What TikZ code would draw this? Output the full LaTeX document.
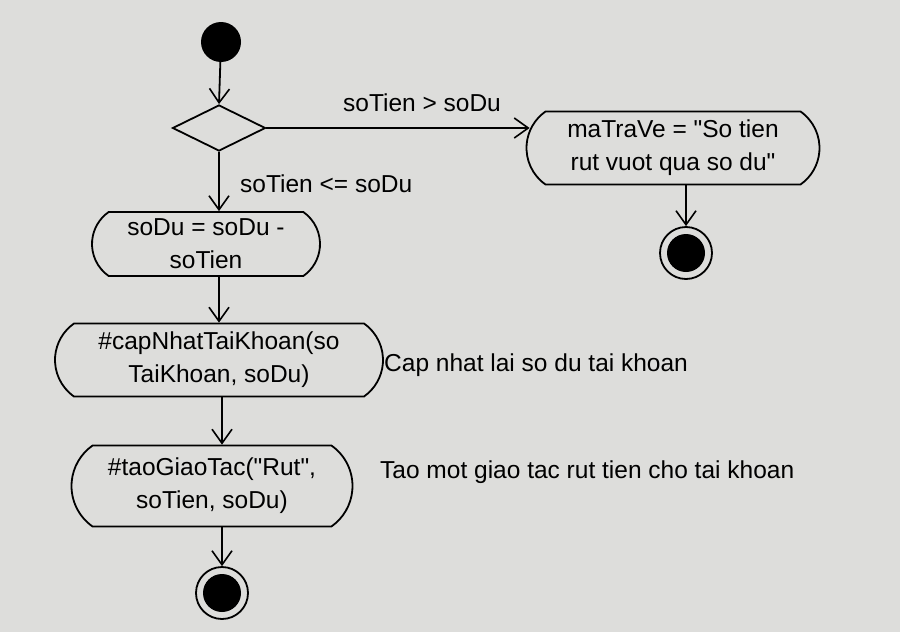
\documentclass[tikz,border=0pt]{standalone}
\usepackage{fontspec}
\setmainfont{Liberation Sans}[Ligatures=TeXOff]
\usetikzlibrary{shapes.geometric,shapes.misc,arrows.meta}
\definecolor{paper}{RGB}{221,221,219}
\begin{document}
\begin{tikzpicture}[x=1pt,y=-1pt,
  every node/.style={font=\fontsize{24.5}{33}\selectfont},
  flow/.style={draw=black,line width=1.8pt,-{Straight Barb[length=14pt,width=20pt,line width=1.6pt]}},
  actbox/.style={draw=black,line width=1.8pt,rounded rectangle,rounded rectangle arc length=110,inner sep=0pt,align=center},
  startdot/.style={circle,fill=black,minimum size=40pt,inner sep=0pt},
  endouter/.style={circle,draw=black,line width=1.8pt,minimum size=52pt,inner sep=0pt},
  enddot/.style={circle,fill=black,minimum size=38pt,inner sep=0pt},
  decision/.style={diamond,draw=black,line width=1.8pt,aspect=2,minimum width=93pt,minimum height=46pt,inner sep=0pt},
  lbl/.style={inner sep=0pt}]
\fill[paper] (0,0) rectangle (900,632);
\useasboundingbox (0,0) rectangle (900,632);

\node[startdot] (start) at (221,42) {};
\node[decision] (dec) at (219,128) {};
\node[actbox,minimum width=293pt,minimum height=73pt] (act1) at (673,148) {maTraVe = "So tien\\rut vuot qua so du"};
\node[endouter] (end1) at (686,253) {};
\node[enddot] (end1in) at (end1) {};
\node[actbox,minimum width=228pt,minimum height=64pt] (act2) at (206,244) {soDu = soDu -\\soTien};
\node[actbox,minimum width=328pt,minimum height=73pt] (act3) at (219,360) {\#capNhatTaiKhoan(so\\TaiKhoan, soDu)};
\node[actbox,minimum width=281pt,minimum height=81pt] (act4) at (212,486) {\#taoGiaoTac("Rut",\\soTien, soDu)};
\node[endouter] (end2) at (222,593) {};
\node[enddot] (end2in) at (end2) {};

\node[lbl] (g1) at (422,103) {soTien > soDu};
\node[lbl,anchor=west] (g2) at (240,184) {soTien <= soDu};
\node[lbl,anchor=west] (n1) at (384,365) {Cap nhat lai so du tai khoan};
\node[lbl,anchor=west] (n2) at (380,472) {Tao mot giao tac rut tien cho tai khoan};

\draw[flow] (start) -- (dec.north);
\draw[flow] (dec.east) -- ([xshift=4pt]dec.east -| act1.west);
\draw[flow] (act1.south -| end1.north) -- (end1.north);
\draw[flow] (dec.south) -- (dec.south |- act2.north);
\draw[flow] (act2.south -| dec.south) -- (dec.south |- act3.north);
\draw[flow] (act3.south -| end2.north) -- (act4.north -| end2.north);
\draw[flow] (act4.south -| end2.north) -- (end2.north);
\end{tikzpicture}
\end{document}
